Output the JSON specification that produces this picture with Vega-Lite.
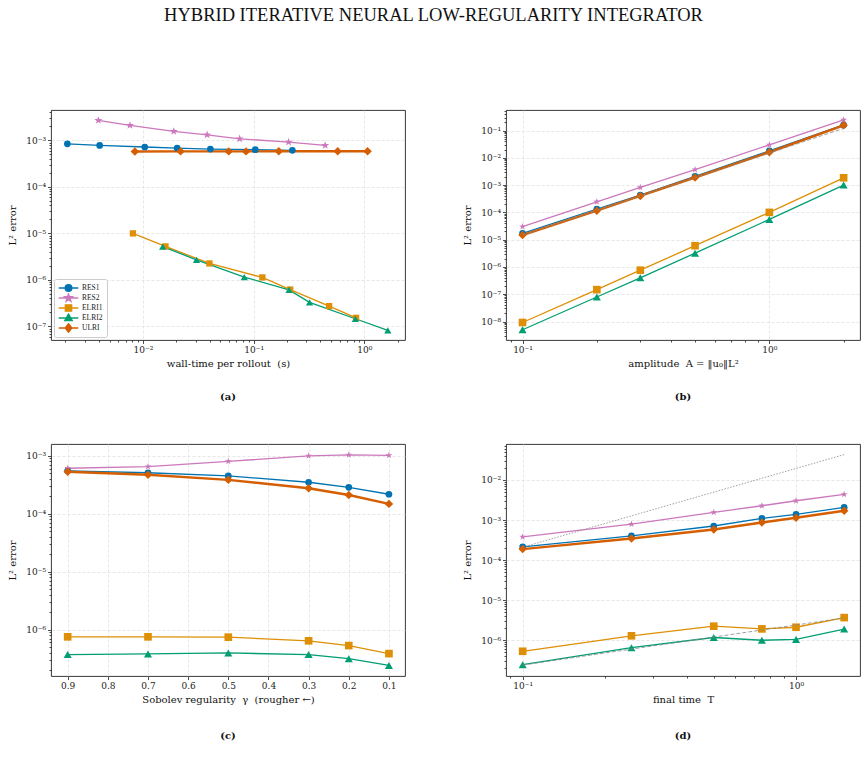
{
  "$schema": "https://vega.github.io/schema/vega-lite/v6.json",
  "background": "white",
  "padding": {"left": 6, "top": 5, "right": 4, "bottom": 0},
  "title": {"text": "HYBRID ITERATIVE NEURAL LOW-REGULARITY INTEGRATOR", "font": "Liberation Serif", "fontSize": 18.5, "fontWeight": "normal", "color": "#111", "anchor": "middle", "offset": 83},
  "config": {
    "font": "DejaVu Serif",
    "view": {"stroke": "#222", "strokeWidth": 0.9},
    "axis": {"domain": false, "tickColor": "#222", "labelFont": "DejaVu Serif", "labelFontSize": 9, "labelColor": "#222", "titleFont": "DejaVu Serif", "titleFontSize": 10, "titleFontWeight": "normal", "titleColor": "#111", "gridColor": "#dddddd", "gridDash": [3, 2], "gridWidth": 0.7, "labelOverlap": false, "labelFlush": false, "labelPadding": 2, "tickSize": 3.5, "tickWidth": 0.8},
    "axisY": {"minExtent": 30, "maxExtent": 30, "titlePadding": 4},
    "axisX": {"titlePadding": 4}
  },
  "datasets": {
    "a": [
      {"series": "RES1", "x": 0.00208, "y": 8.45e-4}, {"series": "RES1", "x": 0.00407, "y": 7.8e-4}, {"series": "RES1", "x": 0.0104, "y": 7.2e-4}, {"series": "RES1", "x": 0.0204, "y": 6.8e-4}, {"series": "RES1", "x": 0.0407, "y": 6.5e-4}, {"series": "RES1", "x": 0.1036, "y": 6.3e-4}, {"series": "RES1", "x": 0.224, "y": 6.1e-4},
      {"series": "RES2", "x": 0.00396, "y": 2.69e-3}, {"series": "RES2", "x": 0.00764, "y": 2.1e-3}, {"series": "RES2", "x": 0.019, "y": 1.56e-3}, {"series": "RES2", "x": 0.038, "y": 1.32e-3}, {"series": "RES2", "x": 0.0748, "y": 1.08e-3}, {"series": "RES2", "x": 0.207, "y": 9.2e-4}, {"series": "RES2", "x": 0.443, "y": 7.8e-4},
      {"series": "ELRI1", "x": 0.00813, "y": 1.0e-5}, {"series": "ELRI1", "x": 0.016, "y": 5.25e-6}, {"series": "ELRI1", "x": 0.0399, "y": 2.26e-6}, {"series": "ELRI1", "x": 0.12, "y": 1.13e-6}, {"series": "ELRI1", "x": 0.214, "y": 6.2e-7}, {"series": "ELRI1", "x": 0.481, "y": 2.73e-7}, {"series": "ELRI1", "x": 0.842, "y": 1.53e-7},
      {"series": "ELRI2", "x": 0.0151, "y": 5.2e-6}, {"series": "ELRI2", "x": 0.0305, "y": 2.7e-6}, {"series": "ELRI2", "x": 0.0824, "y": 1.15e-6}, {"series": "ELRI2", "x": 0.209, "y": 6.1e-7}, {"series": "ELRI2", "x": 0.32, "y": 3.3e-7}, {"series": "ELRI2", "x": 0.83, "y": 1.46e-7}, {"series": "ELRI2", "x": 1.63, "y": 8.2e-8},
      {"series": "ULRI", "x": 0.00847, "y": 5.75e-4}, {"series": "ULRI", "x": 0.0219, "y": 5.8e-4}, {"series": "ULRI", "x": 0.0596, "y": 5.8e-4}, {"series": "ULRI", "x": 0.0855, "y": 5.8e-4}, {"series": "ULRI", "x": 0.169, "y": 5.85e-4}, {"series": "ULRI", "x": 0.575, "y": 5.85e-4}, {"series": "ULRI", "x": 1.07, "y": 5.85e-4}
    ],
    "b": [
      {"series": "RES1", "x": 0.1, "y": 1.7e-5}, {"series": "RES1", "x": 0.2, "y": 1.33e-4}, {"series": "RES1", "x": 0.3, "y": 4.3e-4}, {"series": "RES1", "x": 0.5, "y": 2.1e-3}, {"series": "RES1", "x": 1.0, "y": 1.8e-2}, {"series": "RES1", "x": 2.0, "y": 0.16},
      {"series": "RES2", "x": 0.1, "y": 3.0e-5}, {"series": "RES2", "x": 0.2, "y": 2.45e-4}, {"series": "RES2", "x": 0.3, "y": 8.2e-4}, {"series": "RES2", "x": 0.5, "y": 3.7e-3}, {"series": "RES2", "x": 1.0, "y": 3.0e-2}, {"series": "RES2", "x": 2.0, "y": 0.244},
      {"series": "ELRI1", "x": 0.1, "y": 9.2e-9}, {"series": "ELRI1", "x": 0.2, "y": 1.47e-7}, {"series": "ELRI1", "x": 0.3, "y": 7.6e-7}, {"series": "ELRI1", "x": 0.5, "y": 6.0e-6}, {"series": "ELRI1", "x": 1.0, "y": 1.0e-4}, {"series": "ELRI1", "x": 2.0, "y": 1.85e-3},
      {"series": "ELRI2", "x": 0.1, "y": 5.0e-9}, {"series": "ELRI2", "x": 0.2, "y": 7.9e-8}, {"series": "ELRI2", "x": 0.3, "y": 4.0e-7}, {"series": "ELRI2", "x": 0.5, "y": 3.2e-6}, {"series": "ELRI2", "x": 1.0, "y": 5.5e-5}, {"series": "ELRI2", "x": 2.0, "y": 1.0e-3},
      {"series": "ULRI", "x": 0.1, "y": 1.48e-5}, {"series": "ULRI", "x": 0.2, "y": 1.15e-4}, {"series": "ULRI", "x": 0.3, "y": 4.0e-4}, {"series": "ULRI", "x": 0.5, "y": 1.9e-3}, {"series": "ULRI", "x": 1.0, "y": 1.6e-2}, {"series": "ULRI", "x": 2.0, "y": 0.155}
    ],
    "b_ref": [{"x": 0.1, "y": 1.5e-5}, {"x": 2.0, "y": 0.12}],
    "c": [
      {"series": "RES1", "x": 0.9, "y": 5.5e-4}, {"series": "RES1", "x": 0.7, "y": 5.1e-4}, {"series": "RES1", "x": 0.5, "y": 4.5e-4}, {"series": "RES1", "x": 0.3, "y": 3.5e-4}, {"series": "RES1", "x": 0.2, "y": 2.86e-4}, {"series": "RES1", "x": 0.1, "y": 2.17e-4},
      {"series": "RES2", "x": 0.9, "y": 6.1e-4}, {"series": "RES2", "x": 0.7, "y": 6.5e-4}, {"series": "RES2", "x": 0.5, "y": 8.0e-4}, {"series": "RES2", "x": 0.3, "y": 1.0e-3}, {"series": "RES2", "x": 0.2, "y": 1.04e-3}, {"series": "RES2", "x": 0.1, "y": 1.02e-3},
      {"series": "ELRI1", "x": 0.9, "y": 7.5e-7}, {"series": "ELRI1", "x": 0.7, "y": 7.5e-7}, {"series": "ELRI1", "x": 0.5, "y": 7.4e-7}, {"series": "ELRI1", "x": 0.3, "y": 6.4e-7}, {"series": "ELRI1", "x": 0.2, "y": 5.3e-7}, {"series": "ELRI1", "x": 0.1, "y": 3.85e-7},
      {"series": "ELRI2", "x": 0.9, "y": 3.7e-7}, {"series": "ELRI2", "x": 0.7, "y": 3.8e-7}, {"series": "ELRI2", "x": 0.5, "y": 3.95e-7}, {"series": "ELRI2", "x": 0.3, "y": 3.7e-7}, {"series": "ELRI2", "x": 0.2, "y": 3.15e-7}, {"series": "ELRI2", "x": 0.1, "y": 2.4e-7},
      {"series": "ULRI", "x": 0.9, "y": 5.3e-4}, {"series": "ULRI", "x": 0.7, "y": 4.7e-4}, {"series": "ULRI", "x": 0.5, "y": 3.85e-4}, {"series": "ULRI", "x": 0.3, "y": 2.76e-4}, {"series": "ULRI", "x": 0.2, "y": 2.11e-4}, {"series": "ULRI", "x": 0.1, "y": 1.48e-4}
    ],
    "d": [
      {"series": "RES1", "x": 0.1, "y": 2.15e-4}, {"series": "RES1", "x": 0.25, "y": 4.0e-4}, {"series": "RES1", "x": 0.5, "y": 7.1e-4}, {"series": "RES1", "x": 0.75, "y": 1.1e-3}, {"series": "RES1", "x": 1.0, "y": 1.38e-3}, {"series": "RES1", "x": 1.5, "y": 2.06e-3},
      {"series": "RES2", "x": 0.1, "y": 3.8e-4}, {"series": "RES2", "x": 0.25, "y": 7.9e-4}, {"series": "RES2", "x": 0.5, "y": 1.55e-3}, {"series": "RES2", "x": 0.75, "y": 2.27e-3}, {"series": "RES2", "x": 1.0, "y": 3.03e-3}, {"series": "RES2", "x": 1.5, "y": 4.37e-3},
      {"series": "ELRI1", "x": 0.1, "y": 5.3e-7}, {"series": "ELRI1", "x": 0.25, "y": 1.29e-6}, {"series": "ELRI1", "x": 0.5, "y": 2.24e-6}, {"series": "ELRI1", "x": 0.75, "y": 1.92e-6}, {"series": "ELRI1", "x": 1.0, "y": 2.11e-6}, {"series": "ELRI1", "x": 1.5, "y": 3.67e-6},
      {"series": "ELRI2", "x": 0.1, "y": 2.45e-7}, {"series": "ELRI2", "x": 0.25, "y": 6.5e-7}, {"series": "ELRI2", "x": 0.5, "y": 1.17e-6}, {"series": "ELRI2", "x": 0.75, "y": 1.0e-6}, {"series": "ELRI2", "x": 1.0, "y": 1.05e-6}, {"series": "ELRI2", "x": 1.5, "y": 1.9e-6},
      {"series": "ULRI", "x": 0.1, "y": 1.88e-4}, {"series": "ULRI", "x": 0.25, "y": 3.47e-4}, {"series": "ULRI", "x": 0.5, "y": 5.8e-4}, {"series": "ULRI", "x": 0.75, "y": 8.7e-4}, {"series": "ULRI", "x": 1.0, "y": 1.14e-3}, {"series": "ULRI", "x": 1.5, "y": 1.71e-3}
    ],
    "d_ref2": [{"x": 0.1, "y": 2.1e-4}, {"x": 1.5, "y": 0.043}],
    "d_ref1": [{"x": 0.1, "y": 2.4e-7}, {"x": 1.5, "y": 3.6e-6}]
  },
  "resolve": {"scale": {"color": "independent", "shape": "independent", "size": "independent", "stroke": "independent", "fill": "independent"}, "legend": {"color": "independent", "shape": "independent", "size": "independent", "stroke": "independent", "fill": "independent"}},
  "spacing": 39,
  "vconcat": [
    {
      "spacing": 55,
      "resolve": {"scale": {"color": "independent", "shape": "independent", "size": "independent", "stroke": "independent", "fill": "independent"}, "legend": {"color": "independent", "shape": "independent", "size": "independent", "stroke": "independent", "fill": "independent"}},
      "hconcat": [
        {
          "width": 354, "height": 230,
          "title": {"text": "(a)", "orient": "bottom", "frame": "group", "anchor": "middle", "font": "DejaVu Serif", "fontSize": 10, "fontWeight": "bold", "color": "#111", "offset": 23},
          "data": {"name": "a"},
          "resolve": {"scale": {"color": "independent"}, "legend": {"color": "independent"}},
          "encoding": {
            "x": {"field": "x", "type": "quantitative", "scale": {"type": "log", "domain": [0.00148, 2.33], "nice": false},
              "axis": {"title": "wall-time per rollout\u00a0 (s)", "values": [0.002, 0.003, 0.004, 0.005, 0.006, 0.007, 0.008, 0.009, 0.01, 0.02, 0.03, 0.04, 0.05, 0.06, 0.07, 0.08, 0.09, 0.1, 0.2, 0.3, 0.4, 0.5, 0.6, 0.7, 0.8, 0.9, 1, 2],
                "labelExpr": "abs(log(datum.value)/LN10-round(log(datum.value)/LN10))<0.001 ? '10'+(round(log(datum.value)/LN10)<0?'⁻':'')+['⁰','¹','²','³','⁴','⁵','⁶','⁷','⁸','⁹'][abs(round(log(datum.value)/LN10))] : ''",
                "tickSize": {"condition": {"test": "abs(log(datum.value)/LN10-round(log(datum.value)/LN10))<0.001", "value": 3.5}, "value": 2},
                "gridOpacity": {"condition": {"test": "abs(log(datum.value)/LN10-round(log(datum.value)/LN10))<0.001", "value": 1}, "value": 0}}},
            "y": {"field": "y", "type": "quantitative", "scale": {"type": "log", "domain": [5.1e-8, 4.5e-3], "nice": false},
              "axis": {"title": "L² error", "values": [6e-8, 7e-8, 8e-8, 9e-8, 1e-7, 2e-7, 3e-7, 4e-7, 5e-7, 6e-7, 7e-7, 8e-7, 9e-7, 1e-6, 2e-6, 3e-6, 4e-6, 5e-6, 6e-6, 7e-6, 8e-6, 9e-6, 1e-5, 2e-5, 3e-5, 4e-5, 5e-5, 6e-5, 7e-5, 8e-5, 9e-5, 1e-4, 2e-4, 3e-4, 4e-4, 5e-4, 6e-4, 7e-4, 8e-4, 9e-4, 1e-3, 2e-3, 3e-3, 4e-3],
                "labelExpr": "abs(log(datum.value)/LN10-round(log(datum.value)/LN10))<0.001 ? '10'+(round(log(datum.value)/LN10)<0?'⁻':'')+['⁰','¹','²','³','⁴','⁵','⁶','⁷','⁸','⁹'][abs(round(log(datum.value)/LN10))] : ''",
                "tickSize": {"condition": {"test": "abs(log(datum.value)/LN10-round(log(datum.value)/LN10))<0.001", "value": 3.5}, "value": 2},
                "gridOpacity": {"condition": {"test": "abs(log(datum.value)/LN10-round(log(datum.value)/LN10))<0.001", "value": 1}, "value": 0}}}
          },
          "layer": [
            {
              "mark": {"type": "line"},
              "encoding": {
                "color": {"field": "series", "type": "nominal", "scale": {"domain": ["RES1", "RES2", "ELRI1", "ELRI2", "ULRI"], "range": ["#0173B2", "#CC78BC", "#DE8F05", "#029E73", "#D55E00"]}, "legend": null},
                "strokeWidth": {"condition": {"test": "datum.series==='ULRI'", "value": 2.4}, "value": 1.3}
              }
            },
            {
              "transform": [{"filter": "datum.series==='RES1'"}],
              "mark": {"type": "point", "filled": true, "opacity": 1, "shape": "circle", "size": 45, "color": "#0173B2"},
              "encoding": {}
            },
            {
              "transform": [{"filter": "datum.series==='RES2'"}],
              "mark": {"type": "point", "filled": true, "opacity": 1, "shape": "M0,-1L0.235,-0.324L0.951,-0.309L0.38,0.124L0.588,0.809L0,0.4L-0.588,0.809L-0.38,0.124L-0.951,-0.309L-0.235,-0.324Z", "size": 72, "color": "#CC78BC"},
              "encoding": {}
            },
            {
              "transform": [{"filter": "datum.series==='ELRI1'"}],
              "mark": {"type": "point", "filled": true, "opacity": 1, "shape": "square", "size": 40, "color": "#DE8F05"},
              "encoding": {}
            },
            {
              "transform": [{"filter": "datum.series==='ELRI2'"}],
              "mark": {"type": "point", "filled": true, "opacity": 1, "shape": "triangle-up", "size": 52, "color": "#029E73"},
              "encoding": {}
            },
            {
              "transform": [{"filter": "datum.series==='ULRI'"}],
              "mark": {"type": "point", "filled": true, "opacity": 1, "shape": "diamond", "size": 72, "color": "#D55E00"},
              "encoding": {}
            },
            {
              "mark": {"type": "point", "filled": true, "opacity": 0},
              "encoding": {
                "fill": {"field": "series", "type": "nominal", "scale": {"domain": ["RES1", "RES2", "ELRI1", "ELRI2", "ULRI"], "range": ["#0173B2", "#CC78BC", "#DE8F05", "#029E73", "#D55E00"]},
                  "legend": {"title": null, "orient": "bottom-left", "offset": 3, "padding": 4, "fillColor": "white", "strokeColor": "#cccccc", "cornerRadius": 2, "labelFont": "Liberation Serif", "labelFontSize": 7.5, "labelColor": "#222", "symbolSize": 49, "symbolOffset": 6, "labelOffset": 9, "rowPadding": 0, "clipHeight": 10, "symbolOpacity": 1, "symbolStrokeWidth": 1.4}},
                "stroke": {"field": "series", "type": "nominal", "scale": {"domain": ["RES1", "RES2", "ELRI1", "ELRI2", "ULRI"], "range": ["#0173B2", "#CC78BC", "#DE8F05", "#029E73", "#D55E00"]},
                  "legend": {"title": null, "orient": "bottom-left", "offset": 3, "padding": 4, "fillColor": "white", "strokeColor": "#cccccc", "cornerRadius": 2, "labelFont": "Liberation Serif", "labelFontSize": 7.5, "labelColor": "#222", "symbolSize": 49, "symbolOffset": 6, "labelOffset": 9, "rowPadding": 0, "clipHeight": 10, "symbolOpacity": 1, "symbolStrokeWidth": 1.4}},
                "shape": {"field": "series", "type": "nominal", "scale": {"domain": ["RES1", "RES2", "ELRI1", "ELRI2", "ULRI"], "range": ["M-2.8,0H2.8M0.95,0A0.95,0.95 0 1 1 -0.95,0A0.95,0.95 0 1 1 0.95,0", "M-2.8,0H2.8M0,-1.15L0.27,-0.37L1.09,-0.36L0.44,0.14L0.68,0.93L0,0.46L-0.68,0.93L-0.44,0.14L-1.09,-0.36L-0.27,-0.37Z", "M-2.8,0H2.8M-0.9,-0.9H0.9V0.9H-0.9Z", "M-2.8,0H2.8M0,-1.1L1.05,0.75L-1.05,0.75Z", "M-2.8,0H2.8M0,-1.2L0.95,0L0,1.2L-0.95,0Z"]},
                  "legend": {"title": null, "orient": "bottom-left", "offset": 3, "padding": 4, "fillColor": "white", "strokeColor": "#cccccc", "cornerRadius": 2, "labelFont": "Liberation Serif", "labelFontSize": 7.5, "labelColor": "#222", "symbolSize": 49, "symbolOffset": 6, "labelOffset": 9, "rowPadding": 0, "clipHeight": 10, "symbolOpacity": 1, "symbolStrokeWidth": 1.4}}
              }
            }
          ]
        },
        {
          "width": 354, "height": 230,
          "title": {"text": "(b)", "orient": "bottom", "frame": "group", "anchor": "middle", "font": "DejaVu Serif", "fontSize": 10, "fontWeight": "bold", "color": "#111", "offset": 23},
          "encoding": {
            "x": {"field": "x", "type": "quantitative", "scale": {"type": "log", "domain": [0.0857, 2.33], "nice": false},
              "axis": {"title": "amplitude\u00a0 A = ‖u₀‖L²", "values": [0.09, 0.1, 0.2, 0.3, 0.4, 0.5, 0.6, 0.7, 0.8, 0.9, 1, 2],
                "labelExpr": "abs(log(datum.value)/LN10-round(log(datum.value)/LN10))<0.001 ? '10'+(round(log(datum.value)/LN10)<0?'⁻':'')+['⁰','¹','²','³','⁴','⁵','⁶','⁷','⁸','⁹'][abs(round(log(datum.value)/LN10))] : ''",
                "tickSize": {"condition": {"test": "abs(log(datum.value)/LN10-round(log(datum.value)/LN10))<0.001", "value": 3.5}, "value": 2},
                "gridOpacity": {"condition": {"test": "abs(log(datum.value)/LN10-round(log(datum.value)/LN10))<0.001", "value": 1}, "value": 0}}},
            "y": {"field": "y", "type": "quantitative", "scale": {"type": "log", "domain": [2.1e-9, 0.566], "nice": false},
              "axis": {"title": "L² error", "values": [3e-9, 4e-9, 5e-9, 6e-9, 7e-9, 8e-9, 9e-9, 1e-8, 2e-8, 3e-8, 4e-8, 5e-8, 6e-8, 7e-8, 8e-8, 9e-8, 1e-7, 2e-7, 3e-7, 4e-7, 5e-7, 6e-7, 7e-7, 8e-7, 9e-7, 1e-6, 2e-6, 3e-6, 4e-6, 5e-6, 6e-6, 7e-6, 8e-6, 9e-6, 1e-5, 2e-5, 3e-5, 4e-5, 5e-5, 6e-5, 7e-5, 8e-5, 9e-5, 1e-4, 2e-4, 3e-4, 4e-4, 5e-4, 6e-4, 7e-4, 8e-4, 9e-4, 1e-3, 2e-3, 3e-3, 4e-3, 5e-3, 6e-3, 7e-3, 8e-3, 9e-3, 0.01, 0.02, 0.03, 0.04, 0.05, 0.06, 0.07, 0.08, 0.09, 0.1, 0.2, 0.3, 0.4, 0.5],
                "labelExpr": "abs(log(datum.value)/LN10-round(log(datum.value)/LN10))<0.001 ? '10'+(round(log(datum.value)/LN10)<0?'⁻':'')+['⁰','¹','²','³','⁴','⁵','⁶','⁷','⁸','⁹'][abs(round(log(datum.value)/LN10))] : ''",
                "tickSize": {"condition": {"test": "abs(log(datum.value)/LN10-round(log(datum.value)/LN10))<0.001", "value": 3.5}, "value": 2},
                "gridOpacity": {"condition": {"test": "abs(log(datum.value)/LN10-round(log(datum.value)/LN10))<0.001", "value": 1}, "value": 0}}}
          },
          "layer": [
            {
              "data": {"name": "b"},
              "mark": {"type": "line"},
              "encoding": {
                "color": {"field": "series", "type": "nominal", "scale": {"domain": ["RES1", "RES2", "ELRI1", "ELRI2", "ULRI"], "range": ["#0173B2", "#CC78BC", "#DE8F05", "#029E73", "#D55E00"]}, "legend": null},
                "strokeWidth": {"condition": {"test": "datum.series==='ULRI'", "value": 2.4}, "value": 1.3}
              }
            },
            {
              "data": {"name": "b"},
              "mark": {"type": "point", "filled": true, "opacity": 1},
              "encoding": {
                "color": {"field": "series", "type": "nominal", "scale": {"domain": ["RES1", "RES2", "ELRI1", "ELRI2", "ULRI"], "range": ["#0173B2", "#CC78BC", "#DE8F05", "#029E73", "#D55E00"]}, "legend": null},
                "shape": {"field": "series", "type": "nominal", "scale": {"domain": ["RES1", "RES2", "ELRI1", "ELRI2", "ULRI"], "range": ["circle", "M0,-1L0.235,-0.324L0.951,-0.309L0.38,0.124L0.588,0.809L0,0.4L-0.588,0.809L-0.38,0.124L-0.951,-0.309L-0.235,-0.324Z", "square", "triangle-up", "diamond"]}, "legend": null},
                "size": {"field": "series", "type": "nominal", "scale": {"domain": ["RES1", "RES2", "ELRI1", "ELRI2", "ULRI"], "range": [45, 72, 40, 52, 72]}, "legend": null}
              }
            },
            {
              "data": {"name": "b_ref"},
              "mark": {"type": "line", "color": "#888888", "strokeWidth": 1, "strokeDash": [4, 2], "opacity": 0.8},
              "encoding": {}
            }
          ]
        }
      ]
    },
    {
      "spacing": 55,
      "resolve": {"scale": {"color": "independent", "shape": "independent", "size": "independent"}, "legend": {"color": "independent", "shape": "independent", "size": "independent"}},
      "hconcat": [
        {
          "width": 354, "height": 232,
          "title": {"text": "(c)", "orient": "bottom", "frame": "group", "anchor": "middle", "font": "DejaVu Serif", "fontSize": 10, "fontWeight": "bold", "color": "#111", "offset": 26},
          "data": {"name": "c"},
          "encoding": {
            "x": {"field": "x", "type": "quantitative", "scale": {"domain": [0.06, 0.9415], "nice": false, "zero": false, "reverse": true},
              "axis": {"title": "Sobolev regularity\u00a0 γ\u00a0 (rougher ←)", "values": [0.9, 0.8, 0.7, 0.6, 0.5, 0.4, 0.3, 0.2, 0.1], "format": ".1f"}},
            "y": {"field": "y", "type": "quantitative", "scale": {"type": "log", "domain": [1.58e-7, 1.6e-3], "nice": false},
              "axis": {"title": "L² error", "values": [2e-7, 3e-7, 4e-7, 5e-7, 6e-7, 7e-7, 8e-7, 9e-7, 1e-6, 2e-6, 3e-6, 4e-6, 5e-6, 6e-6, 7e-6, 8e-6, 9e-6, 1e-5, 2e-5, 3e-5, 4e-5, 5e-5, 6e-5, 7e-5, 8e-5, 9e-5, 1e-4, 2e-4, 3e-4, 4e-4, 5e-4, 6e-4, 7e-4, 8e-4, 9e-4, 1e-3],
                "labelExpr": "abs(log(datum.value)/LN10-round(log(datum.value)/LN10))<0.001 ? '10'+(round(log(datum.value)/LN10)<0?'⁻':'')+['⁰','¹','²','³','⁴','⁵','⁶','⁷','⁸','⁹'][abs(round(log(datum.value)/LN10))] : ''",
                "tickSize": {"condition": {"test": "abs(log(datum.value)/LN10-round(log(datum.value)/LN10))<0.001", "value": 3.5}, "value": 2},
                "gridOpacity": {"condition": {"test": "abs(log(datum.value)/LN10-round(log(datum.value)/LN10))<0.001", "value": 1}, "value": 0}}}
          },
          "layer": [
            {
              "mark": {"type": "line"},
              "encoding": {
                "color": {"field": "series", "type": "nominal", "scale": {"domain": ["RES1", "RES2", "ELRI1", "ELRI2", "ULRI"], "range": ["#0173B2", "#CC78BC", "#DE8F05", "#029E73", "#D55E00"]}, "legend": null},
                "strokeWidth": {"condition": {"test": "datum.series==='ULRI'", "value": 2.4}, "value": 1.3}
              }
            },
            {
              "mark": {"type": "point", "filled": true, "opacity": 1},
              "encoding": {
                "color": {"field": "series", "type": "nominal", "scale": {"domain": ["RES1", "RES2", "ELRI1", "ELRI2", "ULRI"], "range": ["#0173B2", "#CC78BC", "#DE8F05", "#029E73", "#D55E00"]}, "legend": null},
                "shape": {"field": "series", "type": "nominal", "scale": {"domain": ["RES1", "RES2", "ELRI1", "ELRI2", "ULRI"], "range": ["circle", "M0,-1L0.235,-0.324L0.951,-0.309L0.38,0.124L0.588,0.809L0,0.4L-0.588,0.809L-0.38,0.124L-0.951,-0.309L-0.235,-0.324Z", "square", "triangle-up", "diamond"]}, "legend": null},
                "size": {"field": "series", "type": "nominal", "scale": {"domain": ["RES1", "RES2", "ELRI1", "ELRI2", "ULRI"], "range": [45, 72, 40, 52, 72]}, "legend": null}
              }
            }
          ]
        },
        {
          "width": 354, "height": 232,
          "title": {"text": "(d)", "orient": "bottom", "frame": "group", "anchor": "middle", "font": "DejaVu Serif", "fontSize": 10, "fontWeight": "bold", "color": "#111", "offset": 26},
          "encoding": {
            "x": {"field": "x", "type": "quantitative", "scale": {"type": "log", "domain": [0.0869, 1.714], "nice": false},
              "axis": {"title": "final time\u00a0 T", "values": [0.09, 0.1, 0.2, 0.3, 0.4, 0.5, 0.6, 0.7, 0.8, 0.9, 1],
                "labelExpr": "abs(log(datum.value)/LN10-round(log(datum.value)/LN10))<0.001 ? '10'+(round(log(datum.value)/LN10)<0?'⁻':'')+['⁰','¹','²','³','⁴','⁵','⁶','⁷','⁸','⁹'][abs(round(log(datum.value)/LN10))] : ''",
                "tickSize": {"condition": {"test": "abs(log(datum.value)/LN10-round(log(datum.value)/LN10))<0.001", "value": 3.5}, "value": 2},
                "gridOpacity": {"condition": {"test": "abs(log(datum.value)/LN10-round(log(datum.value)/LN10))<0.001", "value": 1}, "value": 0}}},
            "y": {"field": "y", "type": "quantitative", "scale": {"type": "log", "domain": [1.28e-7, 0.079], "nice": false},
              "axis": {"title": "L² error", "values": [2e-7, 3e-7, 4e-7, 5e-7, 6e-7, 7e-7, 8e-7, 9e-7, 1e-6, 2e-6, 3e-6, 4e-6, 5e-6, 6e-6, 7e-6, 8e-6, 9e-6, 1e-5, 2e-5, 3e-5, 4e-5, 5e-5, 6e-5, 7e-5, 8e-5, 9e-5, 1e-4, 2e-4, 3e-4, 4e-4, 5e-4, 6e-4, 7e-4, 8e-4, 9e-4, 1e-3, 2e-3, 3e-3, 4e-3, 5e-3, 6e-3, 7e-3, 8e-3, 9e-3, 0.01, 0.02, 0.03, 0.04, 0.05, 0.06, 0.07],
                "labelExpr": "abs(log(datum.value)/LN10-round(log(datum.value)/LN10))<0.001 ? '10'+(round(log(datum.value)/LN10)<0?'⁻':'')+['⁰','¹','²','³','⁴','⁵','⁶','⁷','⁸','⁹'][abs(round(log(datum.value)/LN10))] : ''",
                "tickSize": {"condition": {"test": "abs(log(datum.value)/LN10-round(log(datum.value)/LN10))<0.001", "value": 3.5}, "value": 2},
                "gridOpacity": {"condition": {"test": "abs(log(datum.value)/LN10-round(log(datum.value)/LN10))<0.001", "value": 1}, "value": 0}}}
          },
          "layer": [
            {
              "data": {"name": "d"},
              "mark": {"type": "line"},
              "encoding": {
                "color": {"field": "series", "type": "nominal", "scale": {"domain": ["RES1", "RES2", "ELRI1", "ELRI2", "ULRI"], "range": ["#0173B2", "#CC78BC", "#DE8F05", "#029E73", "#D55E00"]}, "legend": null},
                "strokeWidth": {"condition": {"test": "datum.series==='ULRI'", "value": 2.4}, "value": 1.3}
              }
            },
            {
              "data": {"name": "d"},
              "mark": {"type": "point", "filled": true, "opacity": 1},
              "encoding": {
                "color": {"field": "series", "type": "nominal", "scale": {"domain": ["RES1", "RES2", "ELRI1", "ELRI2", "ULRI"], "range": ["#0173B2", "#CC78BC", "#DE8F05", "#029E73", "#D55E00"]}, "legend": null},
                "shape": {"field": "series", "type": "nominal", "scale": {"domain": ["RES1", "RES2", "ELRI1", "ELRI2", "ULRI"], "range": ["circle", "M0,-1L0.235,-0.324L0.951,-0.309L0.38,0.124L0.588,0.809L0,0.4L-0.588,0.809L-0.38,0.124L-0.951,-0.309L-0.235,-0.324Z", "square", "triangle-up", "diamond"]}, "legend": null},
                "size": {"field": "series", "type": "nominal", "scale": {"domain": ["RES1", "RES2", "ELRI1", "ELRI2", "ULRI"], "range": [45, 72, 40, 52, 72]}, "legend": null}
              }
            },
            {
              "data": {"name": "d_ref2"},
              "mark": {"type": "line", "color": "#888888", "strokeWidth": 1, "strokeDash": [1.5, 1.5], "opacity": 0.8},
              "encoding": {}
            },
            {
              "data": {"name": "d_ref1"},
              "mark": {"type": "line", "color": "#888888", "strokeWidth": 1, "strokeDash": [4, 2], "opacity": 0.8},
              "encoding": {}
            }
          ]
        }
      ]
    }
  ]
}
